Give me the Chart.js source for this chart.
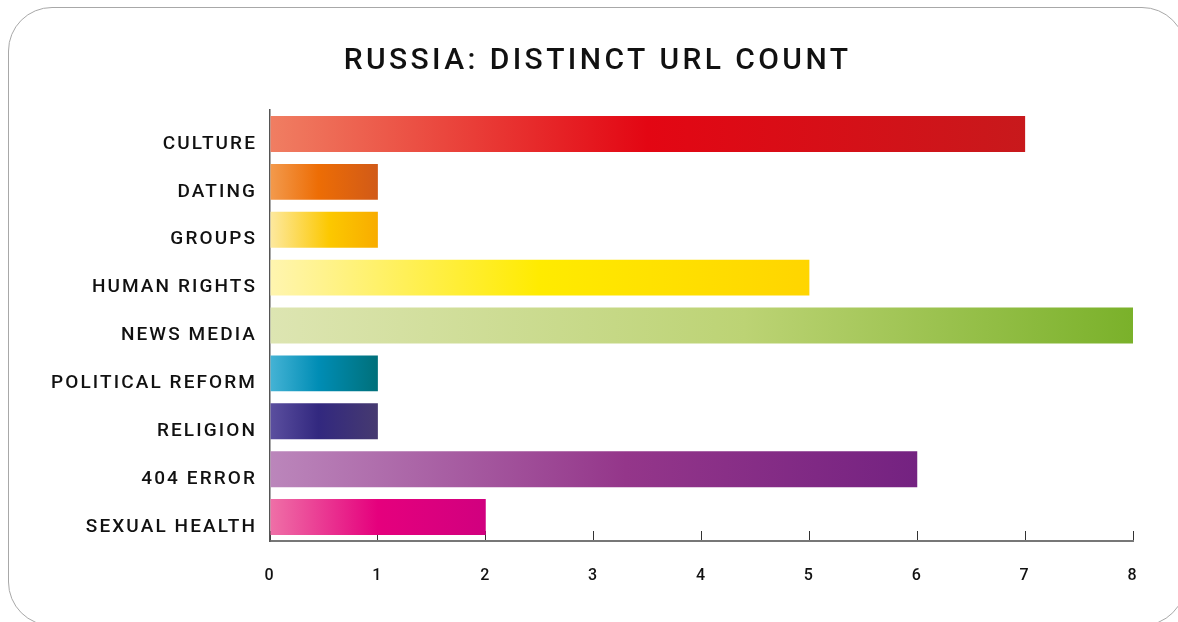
<!DOCTYPE html>
<html>
<head>
<meta charset="utf-8">
<script src="https://cdn.jsdelivr.net/npm/chart.js@4"></script>
<style>
  html, body { margin: 0; padding: 0; background: #fff; }
  #wrap { position: relative; width: 1178px; height: 622px; overflow: hidden; }
  #frame {
    position: absolute; left: 8px; top: 7px; width: 1176px; height: 617px;
    border: 1.5px solid #a8a8a8; border-radius: 44px; pointer-events: none;
  }
  canvas { position: absolute; left: 0; top: 0; }
</style>
</head>
<body>
<div id="wrap">
  <div id="frame"></div>
  <canvas id="chart" width="1178" height="622"></canvas>
</div>
<script>
// categories and their url counts
const categories = ['CULTURE', 'DATING', 'GROUPS', 'HUMAN RIGHTS', 'NEWS MEDIA',
                    'POLITICAL REFORM', 'RELIGION', '404 ERROR', 'SEXUAL HEALTH']
const urlCounts = [7, 1, 1, 5, 8, 1, 1, 6, 2]
const xTicks = [0, 1, 2, 3, 4, 5, 6, 7, 8]

// gradient colours for each bar (light -> strong -> dark)
const gradStart = ['#f07e62', '#f39a4d', '#fde9a0', '#fff5b0', '#dde5b2', '#45b3d5', '#5b4f9f', '#bb86bb', '#ef70a7']
const gradMid   = ['#e30613', '#ed6d05', '#fcc800', '#ffeb00', '#bcd374', '#008db5', '#32287f', '#94368a', '#e5007d']
const gradEnd   = ['#c8191c', '#d15a18', '#f8ac00', '#ffd500', '#7ab12a', '#00707a', '#463a70', '#742281', '#d1007f']
const midStop   = [0.5, 0.45, 0.55, 0.5, 0.55, 0.45, 0.45, 0.55, 0.5]

const FONT = "Roboto, 'Noto Sans', sans-serif"

// bar fill: horizontal gradient across the bar itself
function barFill(context) {
    const chart = context.chart
    const i = context.dataIndex
    if (!chart.chartArea || !chart.scales.x) return gradMid[i]
    const x0 = chart.scales.x.getPixelForValue(0)
    const x1 = chart.scales.x.getPixelForValue(urlCounts[i])
    const g = chart.ctx.createLinearGradient(x0, 0, x1, 0)
    g.addColorStop(0, gradStart[i])
    g.addColorStop(midStop[i], gradMid[i])
    g.addColorStop(1, gradEnd[i])
    return g
}

// wider letters, closer to the original typeface
const spacing = {
    id: 'spacing',
    beforeUpdate(chart) { chart.ctx.letterSpacing = '2.1px' },
    beforeDraw(chart) { chart.ctx.letterSpacing = '2.1px' }
}

const chart = new Chart(document.getElementById('chart'), {
    type: 'bar',
    data: {
        labels: categories,
        datasets: [{
            label: 'Distinct URL count',
            data: urlCounts,
            backgroundColor: barFill,
            borderWidth: 0,
            barPercentage: 0.75,
            categoryPercentage: 1
        }]
    },
    options: {
        indexAxis: 'y',
        responsive: false,
        devicePixelRatio: 1,
        animation: false,
        layout: { padding: { left: 18, right: 45, top: 0, bottom: 0 } },
        plugins: {
            legend: { display: false },
            tooltip: { enabled: false },
            title: {
                display: true,
                text: 'RUSSIA: DISTINCT URL COUNT',
                color: '#111',
                font: { family: FONT, size: 30, weight: '500' },
                padding: { top: 43, bottom: 31 }
            }
        },
        scales: {
            x: {
                min: 0,
                max: 8,
                afterBuildTicks: (scale) => { scale.ticks = xTicks.map(v => ({ value: v })) },
                afterFit: (scale) => { scale.height = 81 },
                grid: {
                    drawOnChartArea: false,
                    drawTicks: true,
                    tickLength: -10,
                    color: '#333',
                    lineWidth: 1
                },
                border: { display: true, color: '#777', width: 2 },
                ticks: {
                    color: '#111',
                    padding: 35,
                    font: { family: FONT, size: 16, weight: '500' }
                }
            },
            y: {
                afterFit: (scale) => { scale.width = 252 },
                grid: { display: false, drawTicks: false },
                border: { display: true, color: '#555', width: 1.5 },
                ticks: {
                    color: '#111',
                    padding: 13,
                    labelOffset: 10,
                    font: { family: FONT, size: 19, weight: '500' }
                }
            }
        }
    },
    plugins: [spacing]
})

// title: a bit more letter spacing, and nudged right like the original
const titleDraw = chart.titleBlock.draw.bind(chart.titleBlock)
chart.titleBlock.draw = function(area) {
    const ctx = chart.ctx
    ctx.save()
    ctx.letterSpacing = '3.4px'
    ctx.translate(22, 0)
    titleDraw(area)
    ctx.restore()
}
chart.draw()
</script>
</body>
</html>
